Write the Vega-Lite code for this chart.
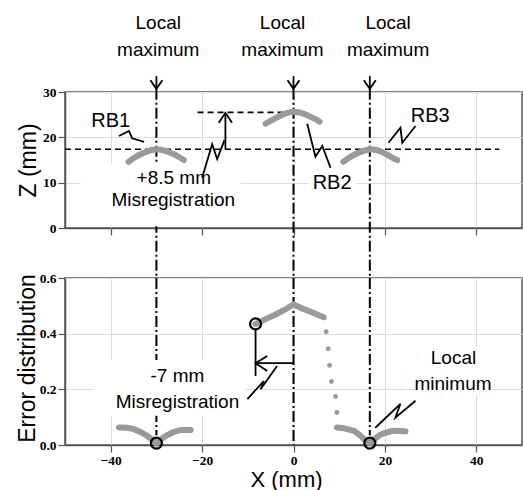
{
  "$schema": "https://vega.github.io/schema/vega-lite/v6.json",
  "background": "white",
  "padding": {"left": 15, "top": 13, "right": 0, "bottom": 0},
  "bounds": "flush",
  "spacing": 50,
  "config": {
    "view": {"stroke": "#555555", "strokeWidth": 1.5},
    "axis": {
      "gridColor": "#dcdcdc", "gridWidth": 1,
      "domainColor": "#555555", "domainWidth": 1.5,
      "tickColor": "#555555", "tickSize": 7, "tickWidth": 1.2,
      "labelFont": "Liberation Serif", "labelFontWeight": "bold", "labelFontSize": 13.5, "labelColor": "#000000", "labelPadding": 2,
      "titleFont": "Liberation Sans", "titleFontSize": 23, "titleFontWeight": "normal", "titleColor": "#000000"
    },
    "text": {"font": "Liberation Sans", "fontSize": 19, "color": "#000000", "align": "center", "baseline": "alphabetic"}
  },
  "datasets": {
    "topVert": [
      {"x": -30, "y": 30.7, "y2": -11.03},
      {"x": 0, "y": 30.7, "y2": -11.03},
      {"x": 16.7, "y": 30.7, "y2": -11.03}
    ],
    "topRect": [
      {"x": -46.6, "x2": -11.6, "y": 0.4, "y2": 14.1},
      {"x": 3.3, "x2": 13.6, "y": 7.6, "y2": 13.1}
    ],
    "topDash": [
      {"x": -50, "x2": 45, "y": 17.36},
      {"x": -21, "x2": 0, "y": 25.5}
    ],
    "topArcs": [
      {"id": "RB1", "x": -36.1, "y": 14.6}, {"id": "RB1", "x": -35, "y": 15.4}, {"id": "RB1", "x": -34, "y": 16.0},
      {"id": "RB1", "x": -33, "y": 16.5}, {"id": "RB1", "x": -32, "y": 16.9}, {"id": "RB1", "x": -31, "y": 17.2},
      {"id": "RB1", "x": -30, "y": 17.35}, {"id": "RB1", "x": -29, "y": 17.25}, {"id": "RB1", "x": -28, "y": 17.0},
      {"id": "RB1", "x": -27, "y": 16.6}, {"id": "RB1", "x": -26, "y": 16.2}, {"id": "RB1", "x": -25, "y": 15.6},
      {"id": "RB1", "x": -24, "y": 15.0},
      {"id": "RB2", "x": -6.1, "y": 23.0}, {"id": "RB2", "x": -5, "y": 23.6}, {"id": "RB2", "x": -4, "y": 24.2},
      {"id": "RB2", "x": -3, "y": 24.7}, {"id": "RB2", "x": -2, "y": 25.2}, {"id": "RB2", "x": -1, "y": 25.5},
      {"id": "RB2", "x": 0, "y": 25.65}, {"id": "RB2", "x": 1, "y": 25.55}, {"id": "RB2", "x": 2, "y": 25.3},
      {"id": "RB2", "x": 3, "y": 24.9}, {"id": "RB2", "x": 4, "y": 24.4}, {"id": "RB2", "x": 5, "y": 23.9},
      {"id": "RB2", "x": 5.7, "y": 23.45},
      {"id": "RB3", "x": 10.9, "y": 14.6}, {"id": "RB3", "x": 12, "y": 15.4}, {"id": "RB3", "x": 13, "y": 16.0},
      {"id": "RB3", "x": 14, "y": 16.5}, {"id": "RB3", "x": 15, "y": 16.9}, {"id": "RB3", "x": 16, "y": 17.2},
      {"id": "RB3", "x": 16.7, "y": 17.35}, {"id": "RB3", "x": 17.5, "y": 17.3}, {"id": "RB3", "x": 18.5, "y": 17.1},
      {"id": "RB3", "x": 19.5, "y": 16.7}, {"id": "RB3", "x": 20.5, "y": 16.2}, {"id": "RB3", "x": 21.5, "y": 15.6},
      {"id": "RB3", "x": 22.7, "y": 14.95}
    ],
    "topText": [
      {"x": -29.6, "y": 43.8, "t": "Local"}, {"x": -29.6, "y": 37.9, "t": "maximum"},
      {"x": -2.4, "y": 43.8, "t": "Local"}, {"x": -2.4, "y": 37.9, "t": "maximum"},
      {"x": 20.7, "y": 43.8, "t": "Local"}, {"x": 20.7, "y": 37.9, "t": "maximum"},
      {"x": -26.2, "y": 9.64, "t": "+8.5 mm"}, {"x": -26.3, "y": 4.85, "t": "Misregistration"}
    ],
    "topLabels": [
      {"x": -40.0, "y": 22.35, "t": "RB1"},
      {"x": 8.45, "y": 8.54, "t": "RB2"},
      {"x": 29.9, "y": 23.45, "t": "RB3"}
    ],
    "topLines": [
      {"id": "a1s", "o": 1, "x": -30, "y": 33.5}, {"id": "a1s", "o": 2, "x": -30, "y": 30.7},
      {"id": "a1h", "o": 1, "x": -31.3, "y": 32.6}, {"id": "a1h", "o": 2, "x": -30, "y": 30.7}, {"id": "a1h", "o": 3, "x": -28.7, "y": 32.6},
      {"id": "a2s", "o": 1, "x": 0, "y": 33.5}, {"id": "a2s", "o": 2, "x": 0, "y": 30.7},
      {"id": "a2h", "o": 1, "x": -1.3, "y": 32.6}, {"id": "a2h", "o": 2, "x": 0, "y": 30.7}, {"id": "a2h", "o": 3, "x": 1.3, "y": 32.6},
      {"id": "a3s", "o": 1, "x": 16.7, "y": 33.5}, {"id": "a3s", "o": 2, "x": 16.7, "y": 30.7},
      {"id": "a3h", "o": 1, "x": 15.4, "y": 32.6}, {"id": "a3h", "o": 2, "x": 16.7, "y": 30.7}, {"id": "a3h", "o": 3, "x": 18.0, "y": 32.6},
      {"id": "ms", "o": 1, "x": -14.9, "y": 17.36}, {"id": "ms", "o": 2, "x": -14.9, "y": 25.4},
      {"id": "mh", "o": 1, "x": -16.35, "y": 23.2}, {"id": "mh", "o": 2, "x": -14.9, "y": 25.4}, {"id": "mh", "o": 3, "x": -13.45, "y": 23.2},
      {"id": "ml", "o": 1, "x": -20.0, "y": 11.1}, {"id": "ml", "o": 2, "x": -17.8, "y": 18.5}, {"id": "ml", "o": 3, "x": -16.7, "y": 15.2}, {"id": "ml", "o": 4, "x": -15.1, "y": 19.4},
      {"id": "r1", "o": 1, "x": -38.2, "y": 20.3}, {"id": "r1", "o": 2, "x": -36.0, "y": 21.4}, {"id": "r1", "o": 3, "x": -35.3, "y": 19.8}, {"id": "r1", "o": 4, "x": -32.7, "y": 19.0},
      {"id": "r2", "o": 1, "x": 3.0, "y": 23.0}, {"id": "r2", "o": 2, "x": 4.8, "y": 15.7}, {"id": "r2", "o": 3, "x": 6.3, "y": 18.1}, {"id": "r2", "o": 4, "x": 8.1, "y": 13.3},
      {"id": "r3", "o": 1, "x": 20.8, "y": 18.8}, {"id": "r3", "o": 2, "x": 23.4, "y": 22.1}, {"id": "r3", "o": 3, "x": 23.8, "y": 18.8}, {"id": "r3", "o": 4, "x": 26.7, "y": 22.5}
    ],
    "botVert": [
      {"x": -30, "y": 0.6, "y2": 0.035},
      {"x": 0, "y": 0.6, "y2": 0},
      {"x": 16.7, "y": 0.6, "y2": 0.035}
    ],
    "botRect": [
      {"x": -43.7, "x2": -10.5, "y": 0.105, "y2": 0.305},
      {"x": 27, "x2": 43.5, "y": 0.18, "y2": 0.355}
    ],
    "botCurves": [
      {"id": "L", "x": -38.2, "y": 0.063}, {"id": "L", "x": -36.5, "y": 0.062}, {"id": "L", "x": -34.9, "y": 0.057},
      {"id": "L", "x": -33.5, "y": 0.047}, {"id": "L", "x": -32, "y": 0.033}, {"id": "L", "x": -31, "y": 0.02},
      {"id": "L", "x": -30, "y": 0.007}, {"id": "L", "x": -29, "y": 0.02}, {"id": "L", "x": -28, "y": 0.032},
      {"id": "L", "x": -26.5, "y": 0.045}, {"id": "L", "x": -24.7, "y": 0.054}, {"id": "L", "x": -22.5, "y": 0.054},
      {"id": "M", "x": -8.3, "y": 0.435}, {"id": "M", "x": -6, "y": 0.453}, {"id": "M", "x": -4, "y": 0.468},
      {"id": "M", "x": -2, "y": 0.485}, {"id": "M", "x": 0, "y": 0.505}, {"id": "M", "x": 2, "y": 0.49},
      {"id": "M", "x": 4, "y": 0.477}, {"id": "M", "x": 6.6, "y": 0.459},
      {"id": "R", "x": 9.5, "y": 0.063}, {"id": "R", "x": 11, "y": 0.06}, {"id": "R", "x": 13.2, "y": 0.051},
      {"id": "R", "x": 14.5, "y": 0.036}, {"id": "R", "x": 15.5, "y": 0.02}, {"id": "R", "x": 16.7, "y": 0.007},
      {"id": "R", "x": 17.8, "y": 0.022}, {"id": "R", "x": 19, "y": 0.037}, {"id": "R", "x": 20.5, "y": 0.046},
      {"id": "R", "x": 21.9, "y": 0.051}, {"id": "R", "x": 24.5, "y": 0.049}
    ],
    "botDots": [
      {"x": 7.15, "y": 0.407}, {"x": 7.6, "y": 0.346}, {"x": 7.9, "y": 0.286},
      {"x": 8.3, "y": 0.228}, {"x": 9.2, "y": 0.174}, {"x": 9.5, "y": 0.117}
    ],
    "botCircles": [
      {"x": -8.3, "y": 0.435}, {"x": -30, "y": 0.007}, {"x": 16.7, "y": 0.007}
    ],
    "botText": [
      {"x": -25.4, "y": 0.227, "t": "-7 mm"}, {"x": -25.4, "y": 0.132, "t": "Misregistration"},
      {"x": 35.0, "y": 0.29, "t": "Local"}, {"x": 34.9, "y": 0.197, "t": "minimum"}
    ],
    "botLines": [
      {"id": "v", "o": 1, "x": -8.3, "y": 0.415}, {"id": "v", "o": 2, "x": -8.3, "y": 0.248},
      {"id": "h", "o": 1, "x": 0, "y": 0.294}, {"id": "h", "o": 2, "x": -8.3, "y": 0.294},
      {"id": "hh", "o": 1, "x": -5.75, "y": 0.32}, {"id": "hh", "o": 2, "x": -8.3, "y": 0.294}, {"id": "hh", "o": 3, "x": -5.75, "y": 0.266},
      {"id": "ml", "o": 1, "x": -10.1, "y": 0.165}, {"id": "ml", "o": 2, "x": -6.5, "y": 0.23}, {"id": "ml", "o": 3, "x": -7.2, "y": 0.2}, {"id": "ml", "o": 4, "x": -3.6, "y": 0.284},
      {"id": "lm", "o": 1, "x": 17.9, "y": 0.062}, {"id": "lm", "o": 2, "x": 23.4, "y": 0.148}, {"id": "lm", "o": 3, "x": 22.3, "y": 0.098}, {"id": "lm", "o": 4, "x": 26.7, "y": 0.159}
    ]
  },
  "vconcat": [
    {
      "width": 457,
      "height": 136,
      "encoding": {
        "x": {"field": "x", "type": "quantitative", "scale": {"domain": [-50, 50], "nice": false, "zero": false},
              "axis": {"values": [-40, -20, 0, 20, 40], "labels": false, "title": null, "grid": true}},
        "y": {"field": "y", "type": "quantitative", "scale": {"domain": [0, 30], "nice": false, "zero": false},
              "axis": {"values": [0, 10, 20, 30], "title": "Z (mm)", "grid": true, "titleX": -30, "titleBaseline": "alphabetic"}}
      },
      "layer": [
        {"data": {"name": "topVert"}, "mark": {"type": "rule", "color": "#000000", "strokeWidth": 2, "strokeDash": [11, 3, 2, 3]},
         "encoding": {"y2": {"field": "y2"}}},
        {"data": {"name": "topRect"}, "mark": {"type": "rect", "color": "#ffffff"},
         "encoding": {"x2": {"field": "x2"}, "y2": {"field": "y2"}}},
        {"data": {"name": "topDash"}, "mark": {"type": "rule", "color": "#000000", "strokeWidth": 1.6, "strokeDash": [6, 4]},
         "encoding": {"x2": {"field": "x2"}}},
        {"data": {"name": "topArcs"}, "mark": {"type": "line", "color": "#9a9a9a", "strokeWidth": 6, "strokeCap": "round"},
         "encoding": {"detail": {"field": "id"}}},
        {"data": {"name": "topText"}, "mark": {"type": "text", "fontSize": 19},
         "encoding": {"text": {"field": "t"}}},
        {"data": {"name": "topLabels"}, "mark": {"type": "text", "fontSize": 20},
         "encoding": {"text": {"field": "t"}}},
        {"data": {"name": "topLines"}, "mark": {"type": "line", "color": "#000000", "strokeWidth": 1.8},
         "encoding": {"detail": {"field": "id"}, "order": {"field": "o"}}}
      ]
    },
    {
      "width": 457,
      "height": 167,
      "encoding": {
        "x": {"field": "x", "type": "quantitative", "scale": {"domain": [-50, 50], "nice": false, "zero": false},
              "axis": {"values": [-40, -20, 0, 20, 40], "title": "X (mm)", "grid": true, "labelPadding": 1, "titleX": 221, "titleY": 41, "titleFontSize": 22, "titleBaseline": "alphabetic"}},
        "y": {"field": "y", "type": "quantitative", "scale": {"domain": [0, 0.6], "nice": false, "zero": false},
              "axis": {"values": [0, 0.2, 0.4, 0.6], "format": ".1f", "title": "Error distribution", "grid": true, "titleX": -31, "titleY": 80, "titleBaseline": "alphabetic"}}
      },
      "layer": [
        {"data": {"name": "botVert"}, "mark": {"type": "rule", "color": "#000000", "strokeWidth": 2, "strokeDash": [11, 3, 2, 3]},
         "encoding": {"y2": {"field": "y2"}}},
        {"data": {"name": "botRect"}, "mark": {"type": "rect", "color": "#ffffff"},
         "encoding": {"x2": {"field": "x2"}, "y2": {"field": "y2"}}},
        {"data": {"name": "botCurves"}, "mark": {"type": "line", "color": "#9a9a9a", "strokeWidth": 6, "strokeCap": "round"},
         "encoding": {"detail": {"field": "id"}}},
        {"data": {"name": "botDots"}, "mark": {"type": "point", "shape": "circle", "filled": true, "color": "#9a9a9a", "size": 24, "opacity": 1}},
        {"data": {"name": "botText"}, "mark": {"type": "text", "fontSize": 19},
         "encoding": {"text": {"field": "t"}}},
        {"data": {"name": "botLines"}, "mark": {"type": "line", "color": "#000000", "strokeWidth": 1.8},
         "encoding": {"detail": {"field": "id"}, "order": {"field": "o"}}},
        {"data": {"name": "botCircles"}, "mark": {"type": "point", "shape": "circle", "filled": false, "stroke": "#000000", "strokeWidth": 2.2, "size": 120, "opacity": 1}}
      ]
    }
  ]
}
